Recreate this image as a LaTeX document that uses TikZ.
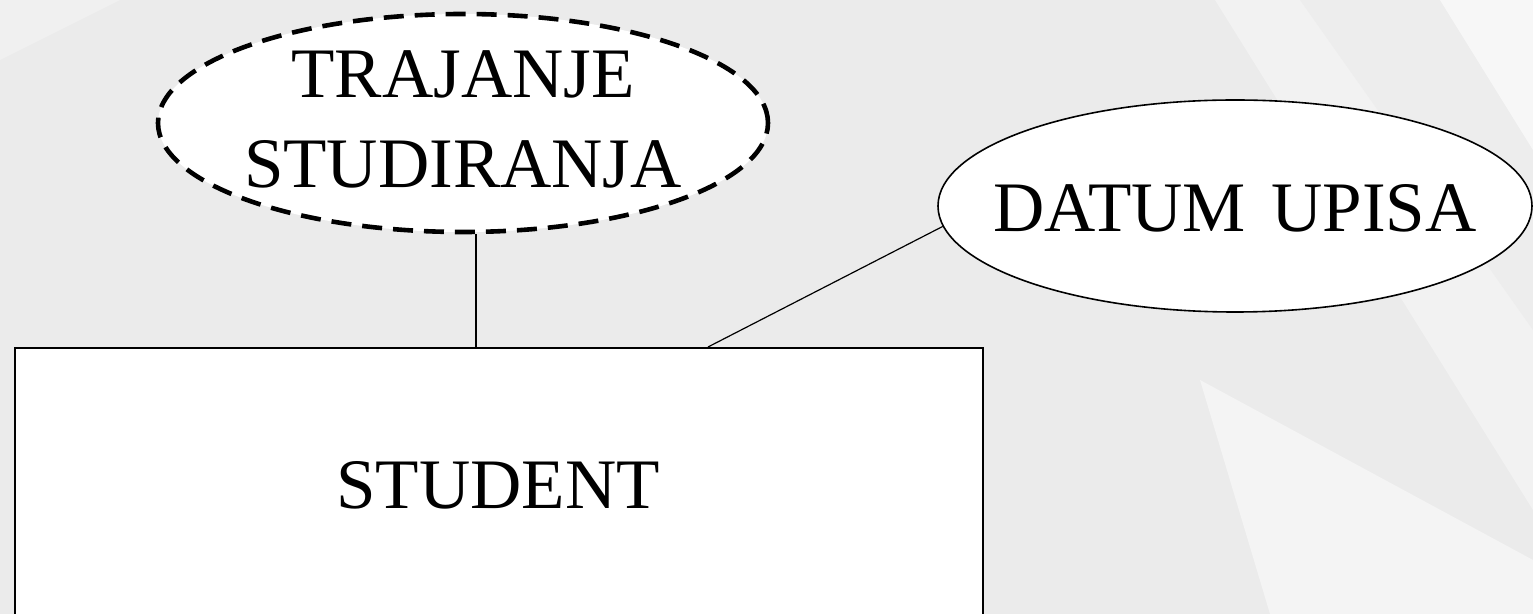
\documentclass[tikz,border=0pt]{standalone}
\usepackage{fontspec}
\setmainfont{Liberation Serif}
\usetikzlibrary{shapes.geometric}
\begin{document}
\begin{tikzpicture}[x=0.5pt,y=-0.5pt,
  bg/.style={fill=#1,draw=none},
  attr/.style={ellipse,draw,fill=white,line width=0.8pt,inner sep=0pt,
    minimum width=#1},
  entity/.style={rectangle,draw,fill=white,line width=0.9pt},
  link/.style={line width=0.6pt},
  label/.style={font=\fontsize{35.5}{45}\selectfont,align=center}]
% backdrop with soft diagonal bands
\fill[gray!16] (0,0) rectangle (1533,614);
\fill[bg=gray!10] (1215,0) -- (1533,0) -- (1533,510) -- cycle;
\fill[bg=gray!14] (1300,0) -- (1440,0) -- (1533,150) -- (1533,330) -- cycle;
\fill[bg=gray!6] (1440,0) -- (1533,0) -- (1533,150) -- cycle;
\fill[bg=gray!9] (1200,380) -- (1533,560) -- (1533,614) -- (1270,614) -- cycle;
\fill[bg=gray!12] (0,0) -- (120,0) -- (0,60) -- cycle;
\useasboundingbox (0,0) rectangle (1533,614);
% entity and its attributes
\node[entity,minimum width=484pt,minimum height=200pt,anchor=north west]
  (student) at (14,347) {};
\node[label] (studtxt) at (498,485) {STUDENT};
\node[attr=305pt,minimum height=109pt,line width=2.3pt,dash pattern=on 10pt off 5.5pt]
  (trajanje) at (463,123) {};
\node[label] at ([yshift=2pt]trajanje.center) {TRAJANJE\\STUDIRANJA};
\node[attr=297pt,minimum height=106pt] (datum) at (1235,206) {};
\node[label] at ([yshift=-1pt]datum.center) {DATUM\hspace{4pt} UPISA};
% connectors
\coordinate (tjoin) at (476,347);
\draw[link] (tjoin |- trajanje.south) -- (tjoin);
\coordinate (djoin) at (708,347);
\draw[link] (datum.184) -- (djoin);
\end{tikzpicture}
\end{document}
